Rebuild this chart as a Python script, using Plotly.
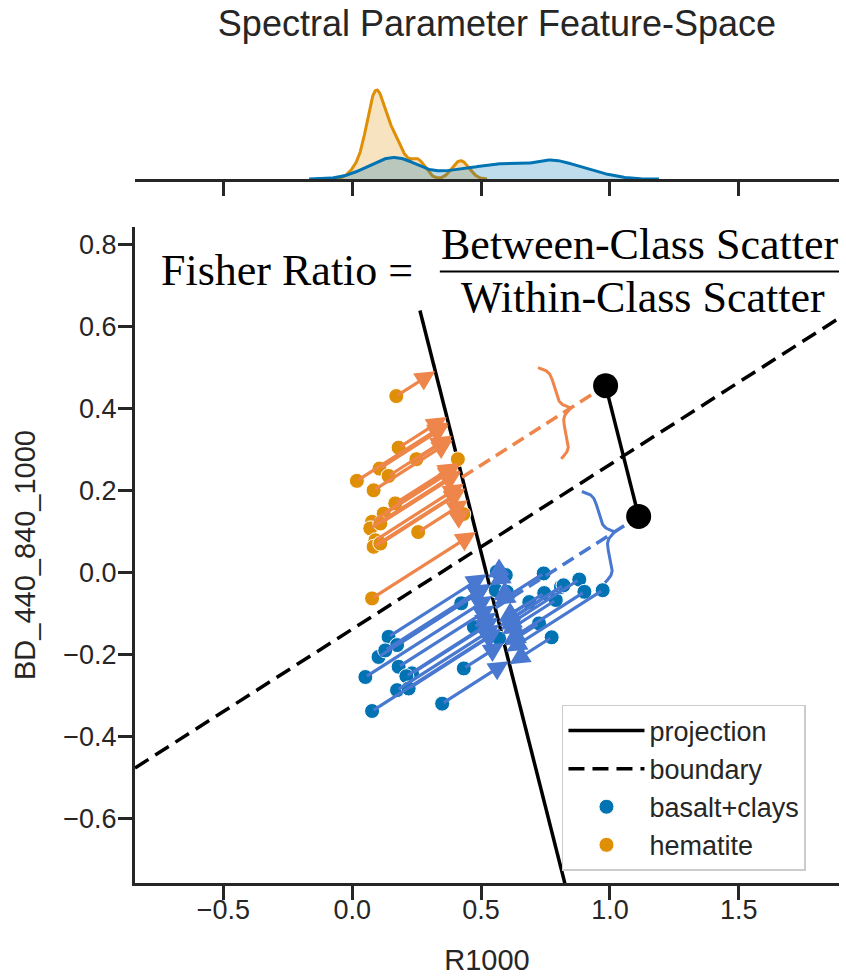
import numpy as np
import plotly.graph_objects as go

# ---- spectral parameters per class -------------------------------------
basalt_r1000 = [0.141, 0.174, 0.102, 0.128, 0.051, 0.180, 0.232, 0.210, 0.174, 0.219,
                0.077, 0.349, 0.433, 0.423, 0.472, 0.561, 0.596, 0.557, 0.600, 0.570,
                0.687, 0.725, 0.743, 0.745, 0.774, 0.790, 0.810, 0.820, 0.881, 0.901, 0.972]
basalt_bd = [-0.157, -0.177, -0.206, -0.190, -0.255, -0.230, -0.246, -0.253, -0.287, -0.283,
             -0.338, -0.320, -0.234, -0.075, -0.133, 0.002, -0.006, -0.043, -0.047, -0.161,
             -0.072, -0.124, -0.002, -0.050, -0.158, -0.067, -0.035, -0.031, -0.017, -0.047, -0.043]

hematite_r1000 = [0.171, 0.180, 0.106, 0.249, 0.018, 0.141, 0.083, 0.410, 0.167, 0.122,
                  0.077, 0.070, 0.109, 0.090, 0.083, 0.109, 0.256, 0.431, 0.077]
hematite_bd = [0.431, 0.305, 0.254, 0.277, 0.224, 0.236, 0.201, 0.277, 0.169, 0.144,
               0.124, 0.108, 0.120, 0.079, 0.063, 0.071, 0.099, 0.143, -0.063]

# linear discriminant: boundary slope and the point where boundary and projection axis cross
boundary_slope = 0.402
axis_cross = (0.4955, 0.061)
# class centroids as scores along the projection axis (basalt+clays, hematite)
centroid_scores = [0.159, -0.185]

x_ticks = [-0.5, 0.0, 0.5, 1.0, 1.5]
y_ticks = [-0.6, -0.4, -0.2, 0.0, 0.2, 0.4, 0.6, 0.8]

# ---- figure geometry ---------------------------------------------------
W, H = 846, 977
MARGIN = dict(l=135, r=7, t=55, b=94)
X_RANGE = [-0.843, 1.889]
Y_RANGE = [-0.758, 0.844]
MAIN_TOP = 0.7923
MARG_BOTTOM = 0.8502
plot_w = W - MARGIN["l"] - MARGIN["r"]
plot_h = H - MARGIN["t"] - MARGIN["b"]
sx = plot_w / (X_RANGE[1] - X_RANGE[0])            # px per unit along x
sy = plot_h * MAIN_TOP / (Y_RANGE[1] - Y_RANGE[0])  # px per unit along y

INK = "#262626"
C_BLUE, C_ORANGE = "#0173B2", "#DE8F05"          # points / densities
A_BLUE, A_ORANGE = "#4878D0", "#EE854A"          # arrows / guides
FONT = "Liberation Sans, Arial, sans-serif"
SERIF = "Liberation Serif, Times New Roman, serif"

# unit vectors: d along the boundary, u along the projection axis (pointing down)
d = np.array([1.0, boundary_slope]); d /= np.linalg.norm(d)
u = np.array([boundary_slope, -1.0]); u /= np.linalg.norm(u)
c0 = np.array(axis_cross)


def project(pts):
    pts = np.asarray(pts)
    t = (pts - c0) @ u
    return c0 + np.outer(t, u)


classes = [
    ("basalt+clays", np.column_stack([basalt_r1000, basalt_bd]), C_BLUE, A_BLUE),
    ("hematite", np.column_stack([hematite_r1000, hematite_bd]), C_ORANGE, A_ORANGE),
]

fig = go.Figure()

# ---- marginal densities (Gaussian KDE, Scott bandwidth x 0.5) ----------
BW_ADJUST = 0.5
peak = 0
kde_traces = []
for name, pts, col, _ in classes:
    xs = pts[:, 0]
    bw = BW_ADJUST * xs.std(ddof=1) * len(xs) ** (-0.2)
    grid = np.linspace(xs.min() - 3 * bw, xs.max() + 3 * bw, 300)
    dens = np.exp(-0.5 * ((grid[:, None] - xs[None, :]) / bw) ** 2).sum(1)
    dens /= len(xs) * bw * np.sqrt(2 * np.pi)
    peak = max(peak, dens.max())
    r, g, b = int(col[1:3], 16), int(col[3:5], 16), int(col[5:7], 16)
    kde_traces.append(go.Scatter(x=grid, y=dens, mode="lines", fill="tozeroy",
                                 fillcolor=f"rgba({r},{g},{b},0.25)",
                                 line=dict(color=col, width=3),
                                 xaxis="x2", yaxis="y2", showlegend=False, hoverinfo="skip"))
for tr in reversed(kde_traces):
    fig.add_trace(tr)

# ---- boundary and projection axis --------------------------------------
bx = np.array(X_RANGE)
fig.add_trace(go.Scatter(x=bx, y=axis_cross[1] + boundary_slope * (bx - axis_cross[0]),
                         mode="lines", name="boundary",
                         line=dict(color="black", width=3.5, dash="16px,8px"), legendrank=2))
tl = np.array([-0.624, 1.0])
fig.add_trace(go.Scatter(x=c0[0] + tl * u[0], y=c0[1] + tl * u[1], mode="lines",
                         name="projection", line=dict(color="black", width=3.5), legendrank=1))

# ---- samples -----------------------------------------------------------
for rank, (name, pts, col, _) in enumerate(classes):
    fig.add_trace(go.Scatter(x=pts[:, 0], y=pts[:, 1], mode="markers", name=name,
                             marker=dict(size=15, color=col, line=dict(color="white", width=1)),
                             legendrank=3 + rank))

# ---- projected class centroids, shifted along the boundary -------------
SHIFT = 0.6
BRACE_SHIFT = [0.50, 0.455]
dots = []
for (name, pts, col, acol), score in zip(classes, centroid_scores):
    m = c0 + score * u
    end = m + SHIFT * d
    dots.append(end)
    fig.add_trace(go.Scatter(x=[m[0], end[0]], y=[m[1], end[1]], mode="lines",
                             line=dict(color=acol, width=3.5, dash="13px,7px"),
                             showlegend=False, hoverinfo="skip"))
dots = np.array(dots)
fig.add_trace(go.Scatter(x=dots[:, 0], y=dots[:, 1], mode="lines+markers",
                         line=dict(color="black", width=3.5),
                         marker=dict(size=25, color="black"), showlegend=False))

# ---- braces marking the within-class spread ----------------------------
a_px = np.array([u[0] * sx, -u[1] * sy]); a_px /= np.linalg.norm(a_px)   # along axis (screen)
n_px = np.array([a_px[1], -a_px[0]])                                     # toward brace tip


def brace(tip, length=94.0, depth=22.0, beta=0.3):
    half = length / 2
    s = np.linspace(0, half, 80)
    f = 1 / (1 + np.exp(-beta * s)) + 1 / (1 + np.exp(-beta * (s - half)))
    depth_s = depth * (1.5 - f)
    along = np.concatenate([-(half - s), (half - s)[::-1]])
    dep = np.concatenate([depth_s, depth_s[::-1]])
    off = along[:, None] * a_px[None, :] - dep[:, None] * n_px[None, :]
    return tip[0] + off[:, 0] / sx, tip[1] - off[:, 1] / sy


for (name, pts, col, acol), score, shift in zip(classes, centroid_scores, BRACE_SHIFT):
    bxs, bys = brace(c0 + score * u + shift * d)
    fig.add_trace(go.Scatter(x=bxs, y=bys, mode="lines", line=dict(color=acol, width=3),
                             showlegend=False, hoverinfo="skip"))

# ---- arrows from each sample to its projection -------------------------
for name, pts, col, acol in classes:
    proj = project(pts)
    for (px, py), (qx, qy) in zip(pts, proj):
        fig.add_annotation(x=qx, y=qy, ax=px, ay=py, xref="x", yref="y", axref="x", ayref="y",
                           text="", showarrow=True, arrowhead=2, arrowsize=1.25,
                           arrowwidth=3.2, arrowcolor=acol, standoff=0, startstandoff=0)

# ---- Fisher ratio -------------------------------------------------------
ratio_font = dict(family=SERIF, size=44, color="black")
fig.add_annotation(xref="paper", yref="paper", x=0.216, y=0.740, xanchor="center", yanchor="middle",
                   text="Fisher Ratio =", showarrow=False, font=ratio_font)
fig.add_annotation(xref="paper", yref="paper", x=0.717, y=0.7717, xanchor="center", yanchor="middle",
                   text="Between-Class Scatter", showarrow=False, font=ratio_font)
fig.add_annotation(xref="paper", yref="paper", x=0.722, y=0.7077, xanchor="center", yanchor="middle",
                   text="Within-Class Scatter", showarrow=False, font=ratio_font)
fig.add_shape(type="line", xref="paper", yref="paper", x0=0.433, x1=1.0, y0=0.7385, y1=0.7385,
              line=dict(color="black", width=2))

axis_common = dict(showline=True, linecolor=INK, linewidth=3, ticks="outside", ticklen=14,
                   tickwidth=3, tickcolor=INK, showgrid=False, zeroline=False, automargin=False,
                   tickfont=dict(family=FONT, size=27, color=INK))

fig.update_layout(
    width=W, height=H, margin=MARGIN, plot_bgcolor="white", paper_bgcolor="white",
    font=dict(family=FONT, color=INK),
    title=dict(text="Spectral Parameter Feature-Space", x=497 / W, y=1 - 23 / H,
               xanchor="center", yanchor="middle",
               font=dict(family=FONT, size=36, color=INK)),
    xaxis=dict(range=X_RANGE, tickvals=x_ticks,
               ticktext=[f"{v:.1f}".replace("-", "\u2212") for v in x_ticks],
               ticklabelstandoff=-13,
               title=dict(text="R1000", font=dict(family=FONT, size=29, color=INK), standoff=26),
               anchor="y", **axis_common),
    yaxis=dict(range=Y_RANGE, domain=[0, MAIN_TOP], tickvals=y_ticks,
               ticktext=[f"{v:.1f}".replace("-", "\u2212") for v in y_ticks],
               ticklabelstandoff=-4,
               title=dict(text="BD_440_840_1000", font=dict(family=FONT, size=29, color=INK), standoff=20),
               anchor="x", **axis_common),
    xaxis2=dict(matches="x", anchor="y2", showticklabels=False, tickvals=x_ticks,
                **{k: v for k, v in axis_common.items() if k != "tickfont"}),
    yaxis2=dict(domain=[MARG_BOTTOM, 1], range=[0, peak * 124 / 89], visible=False, anchor="x2"),
    legend=dict(x=0.6065, y=0.215, xanchor="left", yanchor="top",
                bgcolor="rgba(255,255,255,0.8)", bordercolor="#cccccc", borderwidth=1.5,
                font=dict(family=FONT, size=27, color=INK), itemwidth=76),
)

fig.write_html("out.html")
